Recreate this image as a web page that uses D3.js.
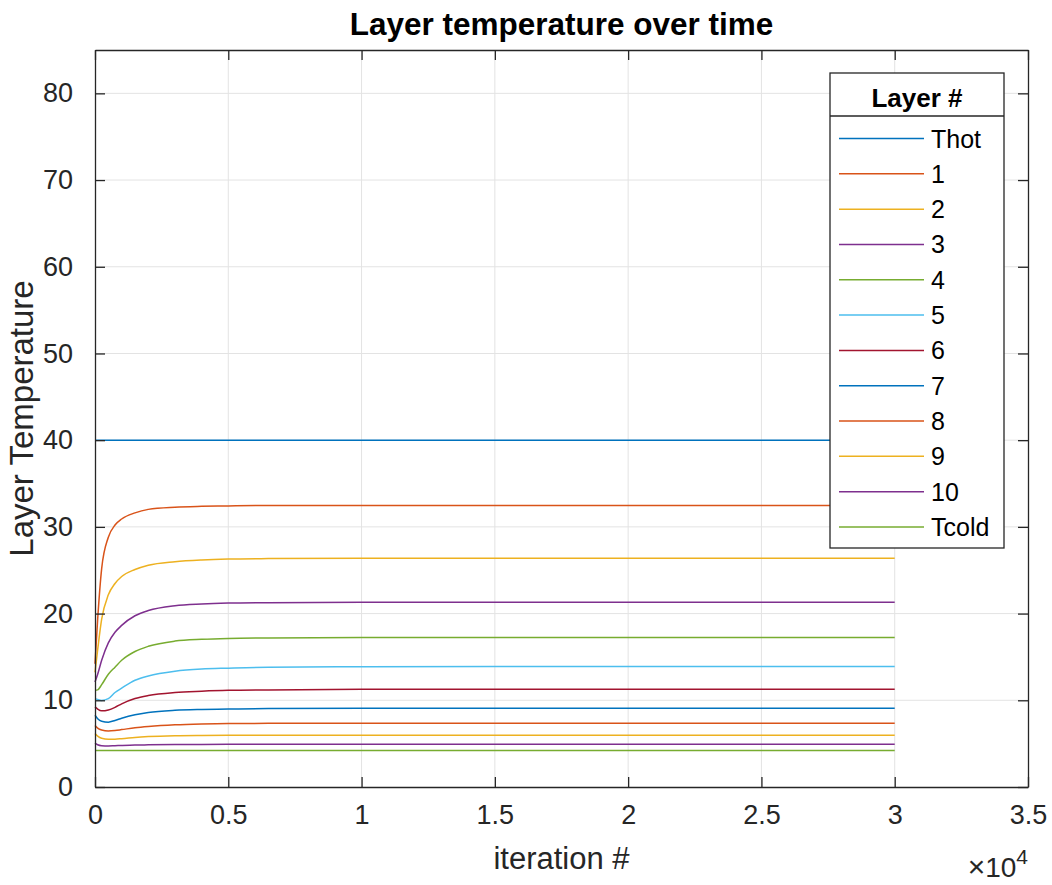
<!DOCTYPE html>
<html>
<head>
<meta charset="utf-8">
<script src="https://cdn.jsdelivr.net/npm/d3@7"></script>
<style>
  html, body { margin: 0; padding: 0; background: #fff; }
  svg { display: block; font-family: "Liberation Sans", Arial, Helvetica, sans-serif; }
</style>
</head>
<body>
<svg id="chart" width="1052" height="885"></svg>
<script>
// Iteration numbers at which the layer temperatures were sampled
const iterations = [0, 100, 250, 500, 750, 1000, 1500, 2000, 3000, 4000, 5000, 6500, 10000, 15000, 30000];

// Temperature of each layer at those iterations
const tHot    = [40, 40, 40, 40, 40, 40, 40, 40, 40, 40, 40, 40, 40, 40, 40];
const layer1  = [14.22, 19.35, 25.18, 28.80, 30.21, 30.91, 31.62, 32.02, 32.27, 32.37, 32.42, 32.47, 32.47, 32.47, 32.47];
const layer2  = [13.21, 15.83, 19.35, 22.16, 23.47, 24.28, 25.08, 25.58, 25.99, 26.19, 26.29, 26.34, 26.38, 26.38, 26.38];
const layer3  = [12.11, 13.01, 14.62, 16.63, 17.84, 18.64, 19.75, 20.35, 20.91, 21.11, 21.21, 21.26, 21.30, 21.30, 21.30];
const layer4  = [11.15, 11.20, 11.80, 13.01, 13.82, 14.62, 15.63, 16.23, 16.83, 17.04, 17.14, 17.19, 17.24, 17.25, 17.25];
const layer5  = [10.19, 10.09, 9.99, 10.19, 10.90, 11.40, 12.31, 12.81, 13.36, 13.61, 13.71, 13.82, 13.87, 13.91, 13.91];
const layer6  = [9.24, 8.99, 8.79, 8.89, 9.19, 9.59, 10.20, 10.55, 10.90, 11.05, 11.15, 11.20, 11.26, 11.27, 11.27];
const layer7  = [8.28, 7.88, 7.58, 7.48, 7.68, 7.93, 8.33, 8.59, 8.84, 8.94, 8.99, 9.04, 9.07, 9.07, 9.07];
const layer8  = [7.08, 6.78, 6.57, 6.47, 6.52, 6.62, 6.83, 6.98, 7.18, 7.28, 7.33, 7.34, 7.35, 7.35, 7.35];
const layer9  = [6.17, 5.87, 5.62, 5.52, 5.52, 5.57, 5.72, 5.82, 5.92, 5.95, 5.96, 5.97, 5.97, 5.97, 5.97];
const layer10 = [5.07, 4.87, 4.76, 4.73, 4.76, 4.79, 4.84, 4.86, 4.89, 4.91, 4.92, 4.92, 4.92, 4.92, 4.92];
const tCold   = [4.2, 4.2, 4.2, 4.2, 4.2, 4.2, 4.2, 4.2, 4.2, 4.2, 4.2, 4.2, 4.2, 4.2, 4.2];

const seriesNames  = ["Thot", "1", "2", "3", "4", "5", "6", "7", "8", "9", "10", "Tcold"];
const seriesValues = [tHot, layer1, layer2, layer3, layer4, layer5, layer6, layer7, layer8, layer9, layer10, tCold];
const palette = ["#0072BD", "#D95319", "#EDB120", "#7E2F8E", "#77AC30", "#4DBEEE", "#A2142F"];

const xTicks = [0, 5000, 10000, 15000, 20000, 25000, 30000, 35000];
const xTickLabels = ["0", "0.5", "1", "1.5", "2", "2.5", "3", "3.5"];
const yTicks = [0, 10, 20, 30, 40, 50, 60, 70, 80];

const svg = d3.select("#chart");
const plot = { left: 95, right: 1028, top: 50, bottom: 787 };
const axisColor = "#262626";

const x = d3.scaleLinear().domain([0, 35000]).range([plot.left, plot.right]);
const y = d3.scaleLinear().domain([0, 85]).range([plot.bottom, plot.top]);

// grid
const grid = svg.append("g");
grid.selectAll("line.gx").data(xTicks.slice(1, -1)).join("line")
  .attr("x1", d => x(d)).attr("x2", d => x(d))
  .attr("y1", plot.top).attr("y2", plot.bottom)
  .attr("stroke", "#e3e3e3").attr("stroke-width", 1);
grid.selectAll("line.gy").data(yTicks.slice(1)).join("line")
  .attr("x1", plot.left).attr("x2", plot.right)
  .attr("y1", d => y(d)).attr("y2", d => y(d))
  .attr("stroke", "#e3e3e3").attr("stroke-width", 1);

// data lines
const line = d3.line()
  .x((d, i) => x(iterations[i]))
  .y(d => y(d))
  .curve(d3.curveMonotoneX);

svg.append("g").selectAll("path").data(seriesValues).join("path")
  .attr("d", d => line(d))
  .attr("fill", "none")
  .attr("stroke", (d, i) => palette[i % palette.length])
  .attr("stroke-width", 1.5);

// axes: bottom / left with labels, top / right ticks only, all ticks inward
const tickLen = 10;
const fmtX = d => xTickLabels[xTicks.indexOf(d)];

const xAxisBottom = d3.axisBottom(x).tickValues(xTicks).tickFormat(fmtX).tickSizeInner(-tickLen).tickSizeOuter(0).tickPadding(18);
const xAxisTop = d3.axisTop(x).tickValues(xTicks).tickFormat("").tickSizeInner(-tickLen).tickSizeOuter(0);
const yAxisLeft = d3.axisLeft(y).tickValues(yTicks).tickSizeInner(-tickLen).tickSizeOuter(0).tickPadding(22);
const yAxisRight = d3.axisRight(y).tickValues(yTicks).tickFormat("").tickSizeInner(-tickLen).tickSizeOuter(0);

function styleAxis(g) {
  g.selectAll("path.domain").attr("stroke", axisColor).attr("stroke-width", 1.3);
  g.selectAll(".tick line").attr("stroke", axisColor).attr("stroke-width", 1.3);
  g.selectAll(".tick text").attr("fill", axisColor)
    .style("font-family", "'Liberation Sans', Arial, sans-serif").style("font-size", "27px");
}

svg.append("g").attr("transform", `translate(0,${plot.bottom})`).call(xAxisBottom).call(styleAxis);
svg.append("g").attr("transform", `translate(0,${plot.top})`).call(xAxisTop).call(styleAxis);
svg.append("g").attr("transform", `translate(${plot.left},0)`).call(yAxisLeft).call(styleAxis);
svg.append("g").attr("transform", `translate(${plot.right},0)`).call(yAxisRight).call(styleAxis);

// exponent marker for the x axis
const expo = svg.append("text")
  .attr("x", 1028).attr("y", 877).attr("text-anchor", "end")
  .attr("fill", axisColor).style("font-size", "28px");
expo.append("tspan").text("\u00D7").style("font-size", "30px");
expo.append("tspan").text("10");
expo.append("tspan").text("4").attr("dy", -13).style("font-size", "21px");

// titles
svg.append("text")
  .attr("x", (plot.left + plot.right) / 2).attr("y", 35)
  .attr("text-anchor", "middle").attr("fill", "#000")
  .style("font-size", "31.5px").style("font-weight", "bold")
  .text("Layer temperature over time");

svg.append("text")
  .attr("x", (plot.left + plot.right) / 2).attr("y", 869)
  .attr("text-anchor", "middle").attr("fill", axisColor)
  .style("font-size", "31px")
  .text("iteration #");

svg.append("text")
  .attr("transform", `translate(33,${(plot.top + plot.bottom) / 2}) rotate(-90)`)
  .attr("text-anchor", "middle").attr("fill", axisColor)
  .style("font-size", "33px")
  .text("Layer Temperature");

// legend
const lg = { left: 830, right: 1004, top: 73, bottom: 548, divider: 116 };
const legend = svg.append("g");
legend.append("rect")
  .attr("x", lg.left).attr("y", lg.top)
  .attr("width", lg.right - lg.left).attr("height", lg.bottom - lg.top)
  .attr("fill", "#fff").attr("stroke", axisColor).attr("stroke-width", 1.3);
legend.append("line")
  .attr("x1", lg.left).attr("x2", lg.right)
  .attr("y1", lg.divider).attr("y2", lg.divider)
  .attr("stroke", axisColor).attr("stroke-width", 1.3);
legend.append("text")
  .attr("x", (lg.left + lg.right) / 2).attr("y", 107)
  .attr("text-anchor", "middle").attr("fill", "#000")
  .style("font-size", "26px").style("font-weight", "bold")
  .text("Layer #");

const entryY = d3.scalePoint().domain(seriesNames).range([138.5, 527]);
const entries = legend.selectAll("g.entry").data(seriesNames).join("g")
  .attr("transform", d => `translate(0,${entryY(d)})`);
entries.append("line")
  .attr("x1", 839).attr("x2", 924)
  .attr("stroke", (d, i) => palette[i % palette.length])
  .attr("stroke-width", 1.5);
entries.append("text")
  .attr("x", 931).attr("y", 9)
  .attr("fill", "#000").style("font-size", "25px")
  .text(d => d);
</script>
</body>
</html>
